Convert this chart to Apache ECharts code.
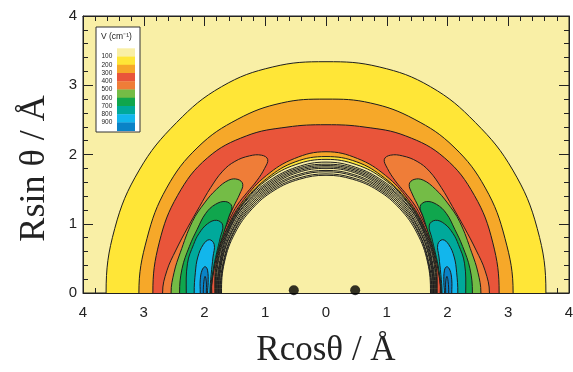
<!DOCTYPE html>
<html>
<head>
<meta charset="utf-8">
<script src="https://cdn.jsdelivr.net/npm/echarts@6/dist/echarts.min.js"></script>
<style>
html, body { margin: 0; padding: 0; background: #fff; }
#chart { width: 573px; height: 372px; }
</style>
</head>
<body>
<div id="chart"></div>
<script>
// sample angles (deg) for the ring shaped contours, right half only
const theta = [0, 15, 30, 45, 60, 75, 90];

// rings V = -100 / -200 / -300 cm-1 : radius (Å) at each angle
const ring100Out = [3.62, 3.60, 3.55, 3.48, 3.44, 3.38, 3.34];
const ring200Out = [3.08, 3.05, 3.03, 2.98, 2.90, 2.84, 2.80];
const ring300Out = [2.85, 2.84, 2.82, 2.76, 2.62, 2.48, 2.43];
const ring300In = [1.83, 1.86, 1.88, 1.91, 1.96, 2.01, 2.04];
const ring200In = [1.82, 1.85, 1.87, 1.89, 1.92, 1.96, 1.97];
const ring100In = [1.81, 1.84, 1.86, 1.88, 1.90, 1.92, 1.93];

// repulsive wall contours (no fill)
const wallLines = [
    [1.72, 1.73, 1.73, 1.72, 1.71, 1.70, 1.70],
    [1.73, 1.74, 1.75, 1.74, 1.73, 1.72, 1.72],
    [1.74, 1.75, 1.76, 1.76, 1.75, 1.75, 1.75],
    [1.75, 1.77, 1.78, 1.78, 1.77, 1.77, 1.77],
    [1.76, 1.78, 1.79, 1.80, 1.79, 1.80, 1.80],
    [1.77, 1.79, 1.81, 1.82, 1.81, 1.82, 1.82],
    [1.78, 1.80, 1.83, 1.84, 1.83, 1.84, 1.84],
    [1.79, 1.81, 1.84, 1.85, 1.85, 1.86, 1.86],
    [1.80, 1.83, 1.85, 1.87, 1.87, 1.88, 1.89]
];

// lobes V <= -400 ... -900, right side, upper half [x, y] from outer foot to inner foot
const lobe400 = [[2.69, 0], [2.62, 0.32], [2.47, 0.62], [2.28, 0.94], [2.08, 1.25], [1.90, 1.52], [1.70, 1.76], [1.50, 1.90], [1.26, 1.98], [1.06, 1.99], [0.96, 1.93], [1.01, 1.80], [1.14, 1.62], [1.30, 1.45], [1.46, 1.27], [1.58, 1.08], [1.70, 0.85], [1.79, 0.60], [1.85, 0.35], [1.88, 0.12], [1.88, 0]];
const lobe500 = [[2.55, 0], [2.50, 0.30], [2.40, 0.58], [2.20, 1.03], [2.00, 1.30], [1.80, 1.50], [1.60, 1.63], [1.45, 1.64], [1.37, 1.57], [1.42, 1.43], [1.52, 1.25], [1.62, 1.05], [1.72, 0.83], [1.80, 0.60], [1.86, 0.33], [1.89, 0]];
const lobe600 = [[2.41, 0], [2.37, 0.35], [2.25, 0.67], [2.12, 0.92], [1.98, 1.15], [1.82, 1.28], [1.65, 1.32], [1.55, 1.25], [1.60, 1.10], [1.68, 0.88], [1.77, 0.63], [1.84, 0.35], [1.89, 0]];
const lobe700 = [[2.30, 0], [2.28, 0.43], [2.18, 0.70], [2.09, 0.86], [1.95, 1.00], [1.80, 1.05], [1.70, 0.98], [1.74, 0.80], [1.80, 0.58], [1.86, 0.32], [1.90, 0]];
const lobe800 = [[2.17, 0], [2.15, 0.30], [2.11, 0.52], [2.02, 0.70], [1.92, 0.77], [1.84, 0.70], [1.86, 0.52], [1.89, 0.27], [1.91, 0]];
const lobe900 = [[2.07, 0], [2.07, 0.19], [2.04, 0.33], [1.99, 0.38], [1.95, 0.33], [1.94, 0.15], [1.95, 0]];
const lobe1000 = [[2.02, 0], [2.01, 0.17], [1.99, 0.24], [1.97, 0.16], [1.97, 0]];

const atoms = [[-0.53, 0.04], [0.48, 0.04]];

// legend: band colours from V > -100 down to V < -900
const levels = ['100', '200', '300', '400', '500', '600', '700', '800', '900'];
const bandColors = ['#F9EFA6', '#FFE637', '#F6A829', '#E9553A', '#EF7D38', '#74BC46', '#10A64D', '#00A99B', '#12B6EC', '#0A83C7'];

function polar(t, r) {
    const a = t * Math.PI / 180;
    return [r * Math.cos(a), r * Math.sin(a)];
}

// closed curve from the right-half samples, mirrored into all four quadrants
function ringLoop(r) {
    const q = theta.map((t, i) => [t, r[i]]);
    const pts = [];
    q.forEach(([t, R]) => pts.push(polar(t, R)));
    q.slice(0, -1).reverse().forEach(([t, R]) => pts.push(polar(180 - t, R)));
    q.slice(1).forEach(([t, R]) => pts.push(polar(180 + t, R)));
    q.slice(1, -1).reverse().forEach(([t, R]) => pts.push(polar(360 - t, R)));
    return pts;
}

function wallCurve(r) {
    const q = theta.map((t, i) => [t, r[i]]);
    const pts = [polar(-15, r[1])];
    q.forEach(([t, R]) => pts.push(polar(t, R)));
    q.slice(0, -1).reverse().forEach(([t, R]) => pts.push(polar(180 - t, R)));
    pts.push(polar(195, r[1]));
    return pts;
}

function lobeLoop(p, side) {
    const full = p.concat(p.slice(1, -1).reverse().map(([x, y]) => [x, -y]));
    return full.map(([x, y]) => [x * side, y]);
}

const shapes = [];
shapes.push({ pts: ringLoop(ring100Out), fill: bandColors[1], closed: true });
shapes.push({ pts: ringLoop(ring200Out), fill: bandColors[2], closed: true });
shapes.push({ pts: ringLoop(ring300Out), fill: bandColors[3], closed: true });
shapes.push({ pts: ringLoop(ring300In), fill: bandColors[2], closed: true });
shapes.push({ pts: ringLoop(ring200In), fill: bandColors[1], closed: true });
shapes.push({ pts: ringLoop(ring100In), fill: bandColors[0], closed: true });
[lobe400, lobe500, lobe600, lobe700, lobe800, lobe900].forEach((lobe, i) => {
    shapes.push({ pts: lobeLoop(lobe, 1), fill: bandColors[i + 4], closed: true });
    shapes.push({ pts: lobeLoop(lobe, -1), fill: bandColors[i + 4], closed: true });
});
shapes.push({ pts: lobeLoop(lobe1000, 1), fill: 'none', closed: true });
shapes.push({ pts: lobeLoop(lobe1000, -1), fill: 'none', closed: true });
wallLines.forEach(r => shapes.push({ pts: wallCurve(r), fill: 'none', closed: false }));

const chart = echarts.init(document.getElementById('chart'));

const axisFont = 'Liberation Sans, Arial, sans-serif';
const nameFont = 'Liberation Serif, Times New Roman, serif';

function xAxisCfg(pos, main) {
    return {
        type: 'value', position: pos, min: -4, max: 4, interval: 1,
        axisLine: { onZero: false, lineStyle: { color: '#222', width: 1 } },
        axisTick: { show: true, inside: true, length: 10, lineStyle: { color: '#222' } },
        minorTick: { show: true, splitNumber: 5, length: 5, lineStyle: { color: '#222' } },
        splitLine: { show: false },
        axisLabel: {
            show: main, margin: 12, fontSize: 15, color: '#222', fontFamily: axisFont,
            formatter: v => Math.abs(v)
        },
        name: main ? 'Rcos\u03b8 / \u00c5' : '',
        nameLocation: 'middle', nameGap: 40,
        nameTextStyle: { fontFamily: nameFont, fontSize: 35, color: '#222' }
    };
}

function yAxisCfg(pos, main) {
    return {
        type: 'value', position: pos, min: 0, max: 4, interval: 1,
        axisLine: { onZero: false, lineStyle: { color: '#222', width: 1 } },
        axisTick: { show: true, inside: true, length: 10, lineStyle: { color: '#222' } },
        minorTick: { show: true, splitNumber: 5, length: 5, lineStyle: { color: '#222' } },
        splitLine: { show: false },
        axisLabel: { show: main, margin: 6, fontSize: 15, color: '#222', fontFamily: axisFont },
        name: main ? 'Rsin \u03b8 / \u00c5' : '',
        nameLocation: 'middle', nameGap: 30,
        nameTextStyle: { fontFamily: nameFont, fontSize: 36, color: '#222', padding: [0, 28, 0, 0] }
    };
}

// legend box
const lx = 96, ly = 27, sw = 117, sy = 48.3, sh = 8.24;
const graphic = [
    { type: 'rect', shape: { x: lx, y: ly, width: 44, height: 105 }, style: { fill: '#fff', stroke: '#333', lineWidth: 1 } },
    { type: 'text', x: 101, y: 37, style: { text: 'V (cm\u207b\u00b9)', fontSize: 8.5, fill: '#222', fontFamily: axisFont, verticalAlign: 'middle' } }
];
bandColors.forEach((c, i) => {
    graphic.push({ type: 'rect', shape: { x: sw, y: sy + i * sh, width: 18, height: sh + 0.3 }, style: { fill: c } });
});
levels.forEach((l, i) => {
    graphic.push({ type: 'text', x: 101.5, y: sy + (i + 1) * sh, style: { text: l, fontSize: 6.5, fill: '#222', fontFamily: axisFont, verticalAlign: 'middle' } });
});

chart.setOption({
    animation: false,
    grid: {
        left: 83, right: 4, top: 16, bottom: 79, outerBoundsMode: 'none',
        show: true, backgroundColor: bandColors[0], borderColor: '#222', borderWidth: 1
    },
    xAxis: [xAxisCfg('bottom', true), xAxisCfg('top', false)],
    yAxis: [yAxisCfg('left', true), yAxisCfg('right', false)],
    graphic: graphic,
    series: [
        {
            type: 'custom',
            coordinateSystem: 'cartesian2d',
            clip: true,
            data: shapes.map((s, i) => [0, 0, i]),
            renderItem: function (params, api) {
                const s = shapes[params.dataIndex];
                const pts = s.pts.map(p => api.coord(p));
                return {
                    type: s.closed ? 'polygon' : 'polyline',
                    z2: params.dataIndex,
                    shape: { points: pts, smooth: 0.4 },
                    style: { fill: s.fill, stroke: '#1e1e1e', lineWidth: 1 }
                };
            },
            silent: true
        },
        {
            type: 'scatter',
            data: atoms,
            symbolSize: 10,
            clip: false,
            itemStyle: { color: '#000' },
            z: 5,
            silent: true
        }
    ]
});
</script>
</body>
</html>
